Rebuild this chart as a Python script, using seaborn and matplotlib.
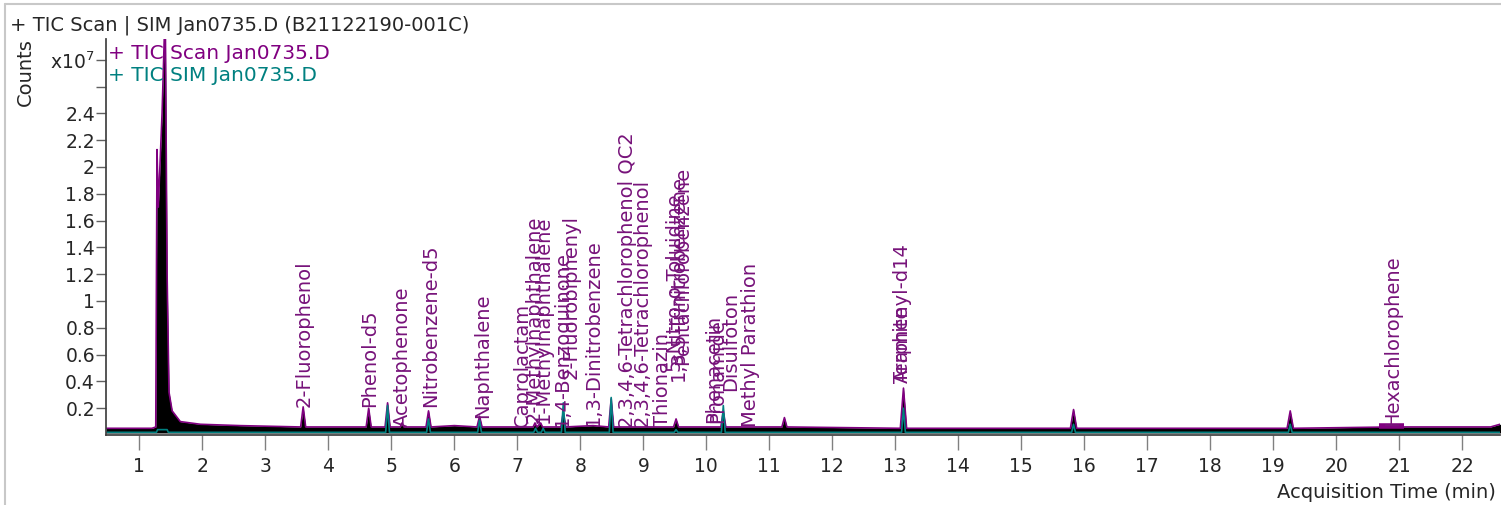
import matplotlib
matplotlib.use("Agg")
import matplotlib.pyplot as plt
import numpy as np
import pandas as pd
import seaborn as sns

# TIC Scan trace (counts in units of 1e7)
scan_time = [0.47, 1.20, 1.26, 1.28, 1.30, 1.36, 1.41, 1.44, 1.47, 1.52, 1.65, 1.97,
             2.60, 3.56, 3.60, 3.64, 4.60, 4.64, 4.68, 4.90, 4.94, 4.98, 5.14, 5.17,
             5.20, 5.55, 5.59, 5.63, 6.00, 6.36, 6.40, 6.44, 7.25, 7.28, 7.31, 7.37,
             7.40, 7.69, 7.73, 7.77, 8.20, 8.45, 8.49, 8.53, 9.48, 9.52, 9.56, 10.23,
             10.27, 10.31, 11.20, 11.24, 11.28, 13.08, 13.13, 13.18, 15.78, 15.83,
             15.88, 19.22, 19.27, 19.32, 20.90, 22.45, 22.60, 22.70]
scan_counts = [0.05, 0.05, 0.06, 2.13, 1.70, 2.40, 3.20, 1.20, 0.32, 0.18, 0.10, 0.08,
               0.07, 0.06, 0.21, 0.06, 0.06, 0.20, 0.06, 0.06, 0.24, 0.06, 0.06, 0.09,
               0.06, 0.06, 0.18, 0.06, 0.07, 0.06, 0.14, 0.06, 0.06, 0.09, 0.06, 0.09,
               0.06, 0.06, 0.17, 0.06, 0.07, 0.06, 0.27, 0.06, 0.06, 0.12, 0.06, 0.06,
               0.18, 0.06, 0.06, 0.13, 0.06, 0.05, 0.35, 0.05, 0.05, 0.19, 0.05, 0.05,
               0.18, 0.05, 0.06, 0.06, 0.08, 0.08]

# TIC SIM trace
sim_time = [0.47, 1.27, 1.29, 1.44, 1.46, 4.91, 4.94, 4.97, 5.56, 5.59, 5.62, 6.37,
            6.40, 6.43, 7.26, 7.29, 7.32, 7.38, 7.41, 7.44, 7.70, 7.73, 7.76, 8.46,
            8.49, 8.52, 9.49, 9.52, 9.55, 10.24, 10.27, 10.30, 13.10, 13.13, 13.16,
            15.80, 15.83, 15.86, 19.24, 19.27, 19.30, 22.70]
sim_counts = [0.02, 0.02, 0.04, 0.04, 0.02, 0.02, 0.22, 0.02, 0.02, 0.12, 0.02, 0.02,
              0.11, 0.02, 0.02, 0.05, 0.02, 0.02, 0.05, 0.02, 0.02, 0.24, 0.02, 0.02,
              0.28, 0.02, 0.02, 0.04, 0.02, 0.02, 0.22, 0.02, 0.02, 0.20, 0.02,
              0.02, 0.08, 0.02, 0.02, 0.08, 0.02, 0.02]

# compound annotations: name, retention time, label base (counts)
peak_names = ["2-Fluorophenol", "Phenol-d5", "Acetophenone", "Nitrobenzene-d5",
              "Naphthalene", "Caprolactam", "2-Methylnaphthalene", "1-Methylnaphthalene",
              "1,4-Benzoquinone", "2-Fluorobiphenyl", "1,3-Dinitrobenzene",
              "2,3,4,6-Tetrachlorophenol QC2", "2,3,4,6-Tetrachlorophenol", "Thionazin",
              "5-Nitro-o-Toluidine", "1,3,5-Trinitrobenzene", "Pentachlorobenzene",
              "Phenacetin", "Pronamide", "Disulfoton", "Methyl Parathion",
              "Terphenyl-d14", "Aramite", "Hexachlorophene"]
peak_rt = [3.62, 4.66, 5.17, 5.62, 6.45, 7.08, 7.27, 7.42, 7.72, 7.86, 8.20,
           8.75, 8.98, 9.30, 9.48, 9.55, 9.62, 10.11, 10.18, 10.38, 10.70,
           13.12, 13.12, 20.90]
peak_base = [0.21, 0.21, 0.06, 0.21, 0.13, 0.06, 0.09, 0.09, 0.06, 0.42, 0.07,
             0.05, 0.06, 0.06, 0.48, 0.40, 0.52, 0.09, 0.09, 0.33, 0.06,
             0.39, 0.39, 0.07]

# integration bracket under Hexachlorophene
hexa_mark_time = [20.68, 21.08]
hexa_mark_counts = [0.07, 0.07]

y_ticks = [0.2, 0.4, 0.6, 0.8, 1.0, 1.2, 1.4, 1.6, 1.8, 2.0, 2.2, 2.4, 2.6, 2.8]
y_labels = ["0.2", "0.4", "0.6", "0.8", "1", "1.2", "1.4", "1.6", "1.8", "2",
            "2.2", "2.4", "", "x10$^{7}$"]
x_ticks = list(range(1, 23))

PURPLE = "#800080"
TEAL = "#008080"
LABEL = "#77137a"

sns.set_theme(style="white")
plt.rcParams["font.family"] = ["DejaVu Sans"]

W, H = 1501, 505
fig = plt.figure(figsize=(W / 100, H / 100), dpi=100)
ax = fig.add_axes([106 / W, 1 - 435 / H, (1500 - 106) / W, (435 - 39) / H])

scan_df = pd.DataFrame({"time": scan_time, "counts": scan_counts})
sim_df = pd.DataFrame({"time": sim_time, "counts": sim_counts})

ax.fill_between(scan_df["time"], 0.015, scan_df["counts"], color="black", lw=0)
sns.lineplot(data=scan_df, x="time", y="counts", ax=ax, color=PURPLE, lw=1.2,
             estimator=None, sort=False)
sns.lineplot(data=sim_df, x="time", y="counts", ax=ax, color=TEAL, lw=1.2,
             estimator=None, sort=False)
ax.plot(hexa_mark_time, hexa_mark_counts, color=PURPLE, lw=4, solid_capstyle="butt")

for name, rt, base in zip(peak_names, peak_rt, peak_base):
    ax.text(rt, base, name, rotation=90, ha="center", va="bottom", color=LABEL,
            fontsize=14, clip_on=False)

ax.set_xlim(0.47, 22.6)
ax.set_ylim(0, 2.955)
ax.set_xticks(x_ticks)
ax.set_xticklabels([str(v) for v in x_ticks])
ax.set_yticks(y_ticks)
ax.set_yticklabels(y_labels)
ax.tick_params(axis="x", direction="out", length=11, width=1, color="#808080",
               labelsize=13.5, pad=5, bottom=True)
ax.tick_params(axis="y", direction="out", length=7, width=1, color="#606060",
               labelsize=13.5, pad=1, left=True)
ax.set_xlabel("")
ax.set_ylabel("")
for side in ["top", "right"]:
    ax.spines[side].set_visible(False)
ax.spines["left"].set_color("#404040")
ax.spines["bottom"].set_color("#404040")

# legend texts
ax.text(0.5, 2.85, "+ TIC Scan Jan0735.D", color=PURPLE, fontsize=14.5, va="center")
ax.text(0.5, 2.68, "+ TIC SIM Jan0735.D", color=TEAL, fontsize=14.5, va="center")

fig.text(10 / W, 1 - 25 / H, "+ TIC Scan | SIM Jan0735.D (B21122190-001C)",
         fontsize=14, va="center", ha="left")
fig.text(25 / W, 1 - 72 / H, "Counts", rotation=90, fontsize=14,
         va="center", ha="center")
fig.text(1496 / W, 1 - 492 / H, "Acquisition Time (min)", fontsize=14,
         va="center", ha="right")

# frame lines of the panel
fig.add_artist(plt.Line2D([5 / W, 5 / W], [0, 1 - 4 / H], color="#c8c8c8", lw=1.5))
fig.add_artist(plt.Line2D([5 / W, 1], [1 - 4 / H, 1 - 4 / H], color="#c8c8c8", lw=1.5))

fig.savefig("out.png", dpi=100)
